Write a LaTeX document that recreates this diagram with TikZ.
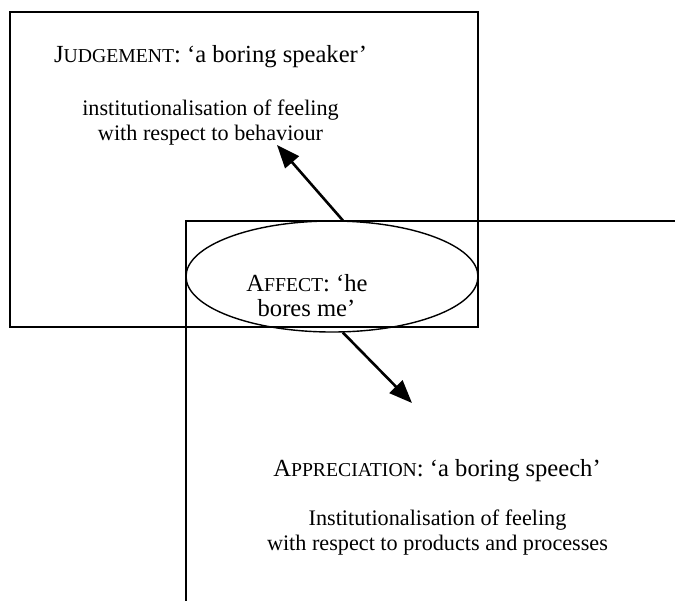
\documentclass[tikz,border=0pt]{standalone}
\usepackage{fontspec}
\setmainfont{Liberation Serif}
\usetikzlibrary{shapes.geometric,arrows.meta}
\newcommand{\fsc}[1]{{\fontsize{9.85pt}{11pt}\selectfont #1}}
\begin{document}
\begin{tikzpicture}[x=0.5pt,y=-0.5pt,
  boxline/.style={line width=0.75pt},
  ttl/.style={font=\fontsize{12.3pt}{14pt}\selectfont, inner sep=0pt, anchor=base},
  dsc/.style={font=\fontsize{11.1pt}{13pt}\selectfont, inner sep=0pt, anchor=base},
  arr/.style={line width=1.3pt, -{Triangle[length=11.5pt,width=9pt]}}]
\useasboundingbox (0,0) rectangle (675,601);
% Judgement box
\node[draw, boxline, rectangle, minimum width=234pt, minimum height=157.5pt, inner sep=0pt] (judg) at (244,169.5) {};
% Appreciation frame (open to the right and bottom)
\coordinate (apTR) at (675,221);
\coordinate (apTL) at (186,221);
\coordinate (apBL) at (186,601);
\draw[boxline] (apTR) -- (apTL) -- (apBL);
% Affect ellipse
\node[draw, ellipse, line width=0.7pt, minimum width=146pt, minimum height=55.5pt, inner sep=0pt] (aff) at (332,276.5) {};
\node[ttl] (afft1) at (307,291.5) {A\fsc{FFECT}: ‘he};
\node[ttl] (afft2) at (306.5,316.5) {bores me’};
% Judgement texts
\node[ttl] (jtitle) at (210.5,62) {J\fsc{UDGEMENT}: ‘a boring speaker’};
\node[dsc] (jdesc1) at (210.5,115) {institutionalisation of feeling};
\node[dsc] (jdesc2) at (210.5,140.5) {with respect to behaviour};
% Appreciation texts
\node[ttl] (atitle) at (437,476) {A\fsc{PPRECIATION}: ‘a boring speech’};
\node[dsc] (adesc1) at (437.5,525) {Institutionalisation of feeling};
\node[dsc] (adesc2) at (437.5,550) {with respect to products and processes};
% Arrows
\coordinate (jtip) at (277,145);
\coordinate (atip) at (412,403);
\draw[arr] (aff.79) -- (jtip);
\draw[arr] (aff.-79) -- (atip);
\end{tikzpicture}
\end{document}
